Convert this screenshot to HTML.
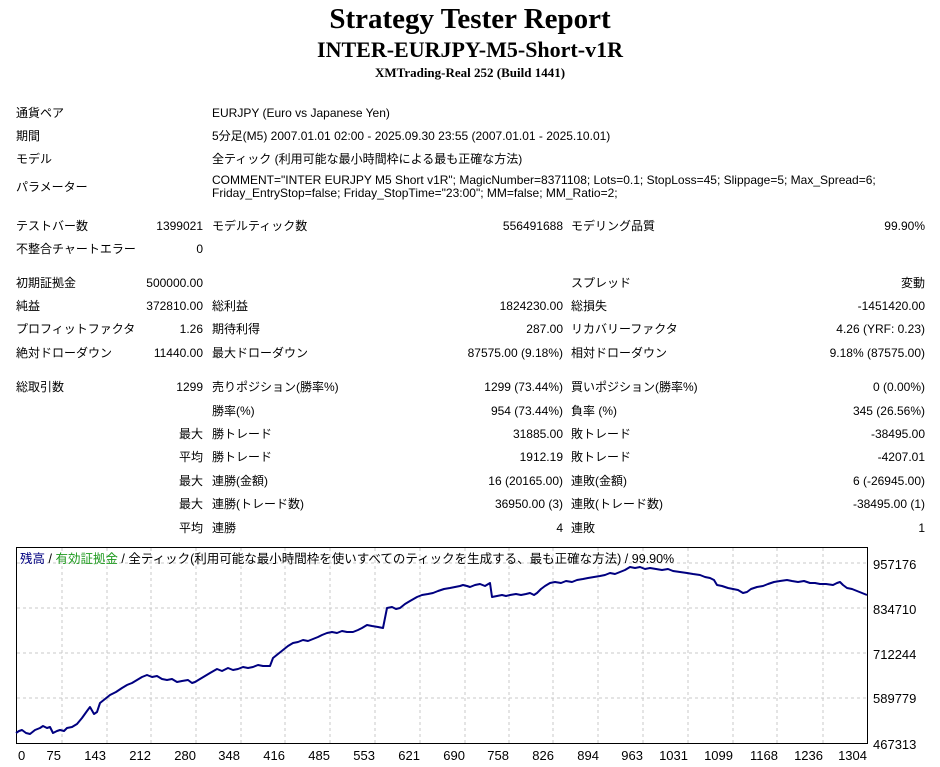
<!DOCTYPE html>
<html><head><meta charset="utf-8"><style>
body{margin:0;width:940px;height:767px;background:#fff;position:relative;overflow:hidden;font-family:"Liberation Sans","Noto Sans CJK JP",sans-serif;font-size:12px;color:#000}
.t{position:absolute;white-space:nowrap;line-height:14px}
.r{text-align:right}
h1,h2,h3{position:absolute;left:0;width:940px;text-align:center;margin:0;font-family:"Liberation Serif",serif;font-weight:bold}
</style></head><body>
<h1 style="top:2px;font-size:29px;line-height:34px">Strategy Tester Report</h1>
<h2 style="top:37px;font-size:22px;line-height:26px">INTER-EURJPY-M5-Short-v1R</h2>
<h3 style="top:65px;font-size:13px;line-height:16px">XMTrading-Real 252 (Build 1441)</h3>

<div class="t" style="left:16px;top:106px">通貨ペア</div><div class="t" style="left:212px;top:106px">EURJPY (Euro vs Japanese Yen)</div>
<div class="t" style="left:16px;top:129px">期間</div><div class="t" style="left:212px;top:129px">5分足(M5) 2007.01.01 02:00 - 2025.09.30 23:55 (2007.01.01 - 2025.10.01)</div>
<div class="t" style="left:16px;top:152px">モデル</div><div class="t" style="left:212px;top:152px">全ティック (利用可能な最小時間枠による最も正確な方法)</div>
<div class="t" style="left:16px;top:180px">パラメーター</div><div class="t" style="left:212px;top:174px;line-height:13px">COMMENT="INTER EURJPY M5 Short v1R"; MagicNumber=8371108; Lots=0.1; StopLoss=45; Slippage=5; Max_Spread=6;<br>Friday_EntryStop=false; Friday_StopTime="23:00"; MM=false; MM_Ratio=2;</div>

<div class="t" style="left:16px;top:219px">テストバー数</div><div class="t r" style="right:737px;top:219px">1399021</div><div class="t" style="left:212px;top:219px">モデルティック数</div><div class="t r" style="right:377px;top:219px">556491688</div><div class="t" style="left:571px;top:219px">モデリング品質</div><div class="t r" style="right:15px;top:219px">99.90%</div>
<div class="t" style="left:16px;top:242px">不整合チャートエラー</div><div class="t r" style="right:737px;top:242px">0</div>

<div class="t" style="left:16px;top:276px">初期証拠金</div><div class="t r" style="right:737px;top:276px">500000.00</div><div class="t" style="left:571px;top:276px">スプレッド</div><div class="t r" style="right:15px;top:276px">変動</div>
<div class="t" style="left:16px;top:299px">純益</div><div class="t r" style="right:737px;top:299px">372810.00</div><div class="t" style="left:212px;top:299px">総利益</div><div class="t r" style="right:377px;top:299px">1824230.00</div><div class="t" style="left:571px;top:299px">総損失</div><div class="t r" style="right:15px;top:299px">-1451420.00</div>
<div class="t" style="left:16px;top:322px">プロフィットファクタ</div><div class="t r" style="right:737px;top:322px">1.26</div><div class="t" style="left:212px;top:322px">期待利得</div><div class="t r" style="right:377px;top:322px">287.00</div><div class="t" style="left:571px;top:322px">リカバリーファクタ</div><div class="t r" style="right:15px;top:322px">4.26 (YRF: 0.23)</div>
<div class="t" style="left:16px;top:346px">絶対ドローダウン</div><div class="t r" style="right:737px;top:346px">11440.00</div><div class="t" style="left:212px;top:346px">最大ドローダウン</div><div class="t r" style="right:377px;top:346px">87575.00 (9.18%)</div><div class="t" style="left:571px;top:346px">相対ドローダウン</div><div class="t r" style="right:15px;top:346px">9.18% (87575.00)</div>

<div class="t" style="left:16px;top:380px">総取引数</div><div class="t r" style="right:737px;top:380px">1299</div><div class="t" style="left:212px;top:380px">売りポジション(勝率%)</div><div class="t r" style="right:377px;top:380px">1299 (73.44%)</div><div class="t" style="left:571px;top:380px">買いポジション(勝率%)</div><div class="t r" style="right:15px;top:380px">0 (0.00%)</div>
<div class="t" style="left:212px;top:404px">勝率(%)</div><div class="t r" style="right:377px;top:404px">954 (73.44%)</div><div class="t" style="left:571px;top:404px">負率 (%)</div><div class="t r" style="right:15px;top:404px">345 (26.56%)</div>
<div class="t r" style="right:737px;top:427px">最大</div><div class="t" style="left:212px;top:427px">勝トレード</div><div class="t r" style="right:377px;top:427px">31885.00</div><div class="t" style="left:571px;top:427px">敗トレード</div><div class="t r" style="right:15px;top:427px">-38495.00</div>
<div class="t r" style="right:737px;top:450px">平均</div><div class="t" style="left:212px;top:450px">勝トレード</div><div class="t r" style="right:377px;top:450px">1912.19</div><div class="t" style="left:571px;top:450px">敗トレード</div><div class="t r" style="right:15px;top:450px">-4207.01</div>
<div class="t r" style="right:737px;top:474px">最大</div><div class="t" style="left:212px;top:474px">連勝(金額)</div><div class="t r" style="right:377px;top:474px">16 (20165.00)</div><div class="t" style="left:571px;top:474px">連敗(金額)</div><div class="t r" style="right:15px;top:474px">6 (-26945.00)</div>
<div class="t r" style="right:737px;top:497px">最大</div><div class="t" style="left:212px;top:497px">連勝(トレード数)</div><div class="t r" style="right:377px;top:497px">36950.00 (3)</div><div class="t" style="left:571px;top:497px">連敗(トレード数)</div><div class="t r" style="right:15px;top:497px">-38495.00 (1)</div>
<div class="t r" style="right:737px;top:521px">平均</div><div class="t" style="left:212px;top:521px">連勝</div><div class="t r" style="right:377px;top:521px">4</div><div class="t" style="left:571px;top:521px">連敗</div><div class="t r" style="right:15px;top:521px">1</div>

<svg style="position:absolute;left:0;top:0" width="940" height="767" font-family="Liberation Sans, Noto Sans CJK JP, sans-serif" font-size="12">
<g stroke="#c8c8c8" stroke-dasharray="3,3" stroke-width="1">
<line x1="62" y1="548" x2="62" y2="744"/><line x1="107" y1="548" x2="107" y2="744"/><line x1="151" y1="548" x2="151" y2="744"/><line x1="196" y1="548" x2="196" y2="744"/><line x1="241" y1="548" x2="241" y2="744"/><line x1="285" y1="548" x2="285" y2="744"/><line x1="330" y1="548" x2="330" y2="744"/><line x1="375" y1="548" x2="375" y2="744"/><line x1="420" y1="548" x2="420" y2="744"/><line x1="465" y1="548" x2="465" y2="744"/><line x1="509" y1="548" x2="509" y2="744"/><line x1="553" y1="548" x2="553" y2="744"/><line x1="598" y1="548" x2="598" y2="744"/><line x1="643" y1="548" x2="643" y2="744"/><line x1="688" y1="548" x2="688" y2="744"/><line x1="733" y1="548" x2="733" y2="744"/><line x1="777" y1="548" x2="777" y2="744"/><line x1="823" y1="548" x2="823" y2="744"/>
<line x1="17" y1="563" x2="868" y2="563"/><line x1="17" y1="608" x2="868" y2="608"/><line x1="17" y1="653" x2="868" y2="653"/><line x1="17" y1="698" x2="868" y2="698"/>
</g>
<rect x="16.5" y="547.5" width="851" height="196" fill="none" stroke="#000"/>
<text x="20" y="563" font-size="12.5"><tspan fill="#000080">残高</tspan> / <tspan fill="#1f9a1f">有効証拠金</tspan> / 全ティック(利用可能な最小時間枠を使いすべてのティックを生成する、最も正確な方法) / 99.90%</text>
<polyline fill="none" stroke="#000080" stroke-width="2" stroke-linejoin="round" points="16,733 19,731 22,730 26,733 30,734 35,730 40,728 43,726 47,728 50,727 53,733 57,731 60,730 64,731 67,728 72,727 77,724 82,718 87,711 90,707 94,714 97,712 100,703 105,699 110,695 116,692 122,688 127,685 132,683 137,680 142,677 147,675 152,677 157,676 162,679 167,680 172,679 177,682 182,681 188,680 192,683 195,682 200,679 205,676 210,673 217,669 222,671 228,668 233,670 238,669 243,667 248,668 253,667 258,665 263,666 270,666 273,658 278,654 283,650 288,646 293,643 298,642 303,640 308,641 313,639 318,637 322,635 327,633 332,632 337,633 342,631 347,632 353,632 358,630 362,628 367,625 372,626 378,627 383,628 387,608 392,607 396,609 400,608 405,604 410,601 417,597 422,595 428,594 433,593 438,591 444,589 450,588 455,587 460,586 463,585 467,586 470,587 475,585 480,584 485,586 490,583 492,597 497,596 502,595 506,596 510,595 516,594 521,595 526,594 530,593 534,595 537,593 541,589 545,586 550,583 555,582 561,583 566,581 572,582 577,580 583,579 588,578 594,577 600,576 605,575 610,573 615,574 620,572 625,570 630,567 635,568 640,567 645,569 650,568 656,569 662,570 668,569 673,571 680,572 687,573 693,574 700,575 705,577 710,578 714,580 717,585 722,586 728,588 733,589 738,590 743,593 747,592 751,589 757,587 763,586 768,584 774,582 780,581 787,580 792,581 798,582 804,581 810,583 815,583 820,584 826,584 833,585 837,583 840,582 843,585 847,588 852,589 857,591 862,593 867,595"/>
<g font-size="13">
<text x="18" y="760">0</text><text x="61" y="760" text-anchor="end">75</text><text x="106" y="760" text-anchor="end">143</text><text x="151" y="760" text-anchor="end">212</text><text x="196" y="760" text-anchor="end">280</text><text x="240" y="760" text-anchor="end">348</text><text x="285" y="760" text-anchor="end">416</text><text x="330" y="760" text-anchor="end">485</text><text x="375" y="760" text-anchor="end">553</text><text x="420" y="760" text-anchor="end">621</text><text x="465" y="760" text-anchor="end">690</text><text x="509" y="760" text-anchor="end">758</text><text x="554" y="760" text-anchor="end">826</text><text x="599" y="760" text-anchor="end">894</text><text x="643" y="760" text-anchor="end">963</text><text x="688" y="760" text-anchor="end">1031</text><text x="733" y="760" text-anchor="end">1099</text><text x="778" y="760" text-anchor="end">1168</text><text x="823" y="760" text-anchor="end">1236</text><text x="867" y="760" text-anchor="end">1304</text>
<text x="873" y="569">957176</text><text x="873" y="614">834710</text><text x="873" y="659">712244</text><text x="873" y="703">589779</text><text x="873" y="749">467313</text>
</g>
</svg>
</body></html>
